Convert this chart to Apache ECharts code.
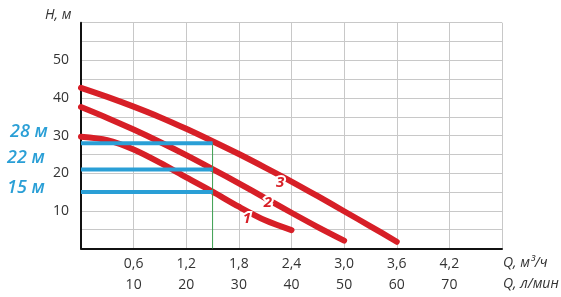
<!DOCTYPE html>
<html>
<head>
<meta charset="utf-8">
<script src="https://cdn.jsdelivr.net/npm/echarts@6/dist/echarts.min.js"></script>
<style>
html,body{margin:0;padding:0;background:#fff;}
#c{width:561px;height:297px;}
</style>
</head>
<body>
<div id="c"></div>
<script>
// Data (Q in m3/h, H in m)
var curve1 = [[0,29.7],[0.3,28.8],[0.6,26.3],[0.9,22.8],[1.2,18.9],[1.5,15.1],[1.8,11.1],[2.1,7.5],[2.4,4.9]];
var curve2 = [[0,37.6],[0.3,34.7],[0.6,31.6],[0.9,28.3],[1.2,24.8],[1.5,21.1],[1.8,17.3],[2.1,13.4],[2.4,9.5],[2.7,5.7],[3.0,2.1]];
var curve3 = [[0,42.7],[0.3,40.3],[0.6,37.7],[0.9,34.9],[1.2,31.8],[1.5,28.5],[1.8,25.1],[2.1,21.5],[2.4,17.8],[2.7,13.9],[3.0,9.9],[3.3,5.9],[3.6,1.8]];
var curveNames = ['1','2','3'];
var curveLabelPos = [[1.89,7.8],[2.13,12.1],[2.27,17.6]];
var dutyFlow = 1.5;
var dutyHeads = [28, 21, 15];
var dutyLabels = ['28 м', '22 м', '15 м'];
var qTicksM3h = [0,0.6,1.2,1.8,2.4,3.0,3.6,4.2,4.8];
var qTicksLmin = [0,10,20,30,40,50,60,70,80];
var hTicks = [10,20,30,40,50];

var FONT = '"Open Sans", sans-serif';
var RED = '#d71f27';
var BLUE = '#2a9fd6';

var chart = echarts.init(document.getElementById('c'), null, {renderer:'canvas'});

function curveSeries(data, idx){
  return {
    type:'line', data:data, smooth:0.3, showSymbol:false, symbol:'none',
    xAxisIndex:0, yAxisIndex:0, z:3,
    lineStyle:{color:RED, width:6, cap:'round', join:'round'},
    markPoint:{
      symbol:'circle', symbolSize:0, silent:true,
      data:[{coord:curveLabelPos[idx], value:curveNames[idx]}],
      label:{show:true, position:'inside', formatter:curveNames[idx], color:RED,
        fontFamily:FONT, fontSize:15, fontStyle:'italic', fontWeight:'bold',
        textBorderColor:'#fff', textBorderWidth:4}
    }
  };
}

var series = [curveSeries(curve1,0), curveSeries(curve2,1), curveSeries(curve3,2)];
dutyHeads.forEach(function(h){
  series.push({type:'line', data:[[0,h],[dutyFlow,h]], showSymbol:false, symbol:'none', z:5,
    lineStyle:{color:BLUE, width:4, cap:'butt'}});
});
series.push({type:'line', data:[[dutyFlow,0],[dutyFlow,dutyHeads[0]]], showSymbol:false, symbol:'none', z:4,
  lineStyle:{color:'#3c9e4f', width:1}});

var graphics = [];
var labelY = [135, 161, 191];
var labelX = [10, 7, 7];
dutyLabels.forEach(function(t,i){
  graphics.push({type:'text', left:labelX[i], top:labelY[i]-12, style:{text:t, fill:BLUE, font:'italic 600 18px '+FONT}});
});
graphics.push({type:'text', left:45, top:8, style:{text:'H, м', fill:'#333', font:'italic 14px '+FONT}});
graphics.push({type:'text', left:503, top:256, style:{text:'Q, м³/ч', fill:'#333', font:'italic 14px '+FONT}});
graphics.push({type:'text', left:503, top:277, style:{text:'Q, л/мин', fill:'#333', font:'italic 14px '+FONT}});

function fmtComma(v){ return (Math.round(v*10)/10).toFixed(1).replace('.',','); }

chart.setOption({
  animation:false,
  grid:{left:81, right:59, top:22.7, bottom:48.5, containLabel:false},
  xAxis:[
    {type:'value', min:qTicksM3h[0], max:qTicksM3h[qTicksM3h.length-1], interval:0.6,
     axisLine:{show:true, lineStyle:{color:'#111', width:2}}, axisTick:{show:false},
     splitLine:{show:true, lineStyle:{color:'#c8c8c8', width:1}},
     axisLabel:{margin:9, color:'#333', fontFamily:FONT, fontSize:14,
       formatter:function(v){ var r=Math.round(v*10)/10; return (r===qTicksM3h[0]||r===qTicksM3h[qTicksM3h.length-1])?'':fmtComma(r);}}},
    {type:'value', position:'bottom', offset:21, min:qTicksLmin[0], max:qTicksLmin[qTicksLmin.length-1], interval:10,
     axisLine:{show:false}, axisTick:{show:false}, splitLine:{show:false},
     axisLabel:{margin:9, color:'#333', fontFamily:FONT, fontSize:14,
       formatter:function(v){ return (v===qTicksLmin[0]||v===qTicksLmin[qTicksLmin.length-1])?'':String(v);}}}
  ],
  yAxis:{type:'value', min:0, max:60, interval:5,
    axisLine:{show:true, lineStyle:{color:'#111', width:2}}, axisTick:{show:false},
    splitLine:{show:true, lineStyle:{color:'#c8c8c8', width:1}},
    axisLabel:{margin:12, color:'#333', fontFamily:FONT, fontSize:14, padding:[0,0,10,0],
      formatter:function(v){ return hTicks.indexOf(v)>=0 ? String(v) : ''; }}},
  graphic:graphics,
  series:series
});
</script>
</body>
</html>
